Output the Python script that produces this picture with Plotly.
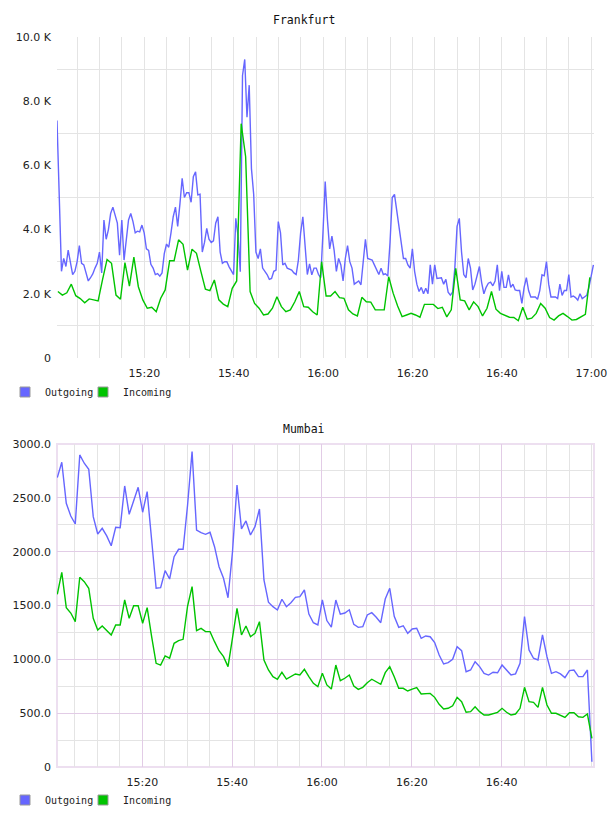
import pandas as pd
import plotly.graph_objects as go

DAY = "2024-01-01"

# Frankfurt outgoing (thousands), one sample every 30 s from 15:00:28
fra_out_k = [
    7.4, 4.9, 2.7, 3.1, 2.85, 3.36, 3.0, 2.6, 2.7, 3.0,
    3.5, 2.95, 2.9, 2.6, 2.4, 2.5, 2.62, 2.8, 2.95, 3.3,
    2.65, 4.3, 3.7, 4.0, 4.5, 4.7, 4.4, 4.2, 3.2, 4.3,
    3.05, 3.74, 4.3, 4.5, 4.25, 3.9, 3.95, 3.93, 4.14, 3.9,
    3.4, 3.35, 2.92, 2.8, 2.6, 2.63, 2.55, 2.65, 3.25, 3.55,
    3.45, 3.9, 4.4, 4.7, 4.1, 4.8, 5.6, 5.0, 5.15, 5.15,
    4.85, 5.65, 5.8, 5.08, 5.1, 3.3, 3.6, 4.04, 3.7, 3.6,
    3.65, 4.2, 4.4, 3.3, 2.95, 3.0, 3.0, 2.84, 2.7, 2.6,
    4.35, 3.8, 2.69, 8.8, 9.3, 7.5, 8.5, 5.9, 5.1, 3.3,
    3.1, 3.4, 2.8, 2.7, 2.6, 2.45, 2.48, 2.7, 2.74, 4.25,
    3.9, 2.9, 2.95, 2.8, 2.78, 2.74, 2.65, 2.6, 3.05, 3.9,
    4.4, 3.36, 2.6, 2.93, 2.59, 2.8, 2.8, 2.6, 2.5, 3.9,
    5.5, 4.3, 3.4, 3.8, 3.35, 2.7, 3.1, 2.9, 2.4, 3.1,
    3.5, 3.0, 2.8, 2.3, 2.35, 2.4, 2.28, 2.9, 3.7, 3.1,
    3.08, 3.05, 2.9, 2.74, 2.6, 2.8, 2.6, 2.62, 2.55, 3.6,
    5.0, 5.1, 4.6, 4.05, 3.5, 3.1, 3.1, 2.9, 2.8, 3.4,
    2.7, 2.3, 2.07, 2.2, 2.0, 2.17, 2.0, 2.9, 2.3, 2.9,
    2.48, 2.48, 2.5, 2.3, 2.45, 2.05, 1.96, 2.05, 2.8, 4.1,
    4.35, 3.3, 2.6, 2.5, 3.1, 2.8, 2.12, 2.3, 2.62, 2.85,
    2.35, 2.0, 2.2, 2.33, 2.36, 2.25, 2.4, 2.9, 2.1, 2.7,
    2.2, 2.2, 2.59, 2.2, 2.3, 2.12, 2.1, 2.1, 1.7, 2.2,
    2.5, 2.1, 1.9, 1.9, 1.9, 1.83, 2.1, 2.59, 2.56, 3.0,
    2.3, 1.9, 1.9, 1.9, 1.85, 2.3, 1.95, 2.1, 2.1, 2.6,
    1.9, 1.93, 1.88, 1.8, 2.0, 1.85, 1.9, 1.95, 2.2, 2.6, 2.9,
]

# Frankfurt incoming (thousands), one sample per minute from 15:00:40
fra_in_k = [
    2.07, 1.96, 2.03, 2.3, 1.94, 1.85, 1.72, 1.84, 1.81, 1.78,
    2.45, 3.07, 2.95, 1.96, 1.83, 2.97, 2.24, 3.14, 2.22, 1.81,
    1.55, 1.58, 1.44, 1.86, 2.12, 3.03, 3.03, 3.68, 3.54, 2.74,
    3.39, 3.26, 2.69, 2.14, 2.1, 2.43, 1.81, 1.68, 1.6, 2.17,
    2.4, 7.3, 6.27, 2.07, 1.7, 1.55, 1.34, 1.37, 1.55, 1.91,
    1.6, 1.44, 1.5, 1.75, 2.07, 1.6, 1.58, 1.44, 1.34, 3.0,
    1.93, 1.93, 2.07, 1.88, 1.86, 1.5, 1.37, 1.31, 1.89, 1.75,
    1.74, 1.5, 1.5, 1.5, 2.53, 2.02, 1.62, 1.29, 1.34, 1.39,
    1.34, 1.27, 1.67, 1.67, 1.67, 1.54, 1.58, 1.28, 1.5, 2.79,
    1.81, 1.78, 1.5, 1.75, 1.6, 1.31, 1.55, 2.07, 1.52, 1.39,
    1.32, 1.27, 1.26, 1.16, 1.58, 1.21, 1.24, 1.39, 1.7, 1.55,
    1.26, 1.18, 1.31, 1.39, 1.29, 1.18, 1.2, 1.27, 1.36, 2.51,
]

# Mumbai, one sample per minute from 15:01:05
mum_out = [
    2687, 2830, 2449, 2331, 2257, 2898, 2821, 2765, 2325, 2164,
    2217, 2146, 2055, 2226, 2223, 2610, 2347, 2480, 2598, 2366,
    2557, 2108, 1660, 1665, 1823, 1746, 1953, 2022, 2022, 2433,
    2929, 2201, 2176, 2161, 2180, 2046, 1860, 1753, 1572, 2000,
    2619, 2211, 2285, 2155, 2232, 2396, 1737, 1530, 1489, 1458,
    1558, 1489, 1526, 1576, 1582, 1644, 1420, 1340, 1320, 1551,
    1360, 1300, 1551, 1420, 1430, 1460, 1325, 1297, 1303, 1412,
    1433, 1390, 1340, 1560, 1660, 1400, 1297, 1312, 1242, 1282,
    1288, 1195, 1217, 1210, 1155, 1040, 957, 969, 1000, 1117,
    1080, 885, 901, 978, 932, 870, 854, 880, 875, 947,
    901, 854, 865, 963, 1396, 1087, 1010, 994, 1226, 1025,
    870, 885, 864, 830, 895, 901, 839, 840, 901, 49,
]
mum_in = [
    1604, 1808, 1480, 1430, 1350, 1762, 1721, 1660, 1381, 1272,
    1310, 1266, 1226, 1319, 1319, 1551, 1381, 1498, 1498, 1335,
    1480, 1210, 963, 947, 1031, 1010, 1149, 1173, 1186, 1495,
    1675, 1266, 1288, 1257, 1257, 1164, 1080, 1025, 932, 1200,
    1474, 1226, 1310, 1210, 1242, 1350, 994, 901, 839, 815,
    880, 817, 839, 864, 854, 907, 840, 777, 746, 870,
    762, 724, 947, 802, 824, 854, 752, 721, 740, 783,
    815, 792, 768, 876, 932, 839, 731, 731, 706, 724,
    737, 678, 684, 684, 647, 582, 539, 545, 569, 647,
    607, 508, 514, 560, 514, 483, 483, 492, 508, 545,
    508, 483, 492, 545, 740, 607, 601, 554, 740, 576,
    499, 499, 483, 461, 504, 504, 467, 461, 492, 267,
]

fra_y_ticks = [0, 2000, 4000, 6000, 8000, 10000]
fra_y_labels = ["0", "2.0 K", "4.0 K", "6.0 K", "8.0 K", "10.0 K"]
mum_y_ticks = [0, 500, 1000, 1500, 2000, 2500, 3000]
mum_y_labels = ["0", "500.0", "1000.0", "1500.0", "2000.0", "2500.0", "3000.0"]
fra_x_labels = ["15:20", "15:40", "16:00", "16:20", "16:40", "17:00"]
mum_x_labels = ["15:20", "15:40", "16:00", "16:20", "16:40"]
series_names = ["Outgoing", "Incoming"]

BLUE = "#6666ff"
GREEN = "#00c400"
GRAY = "#e4e4e4"
LAV = "#e2cce6"
LAV_BORDER = "#eddff0"
COLORS = [BLUE, GREEN]

fra_out_t = pd.date_range(f"{DAY} 15:00:28", periods=len(fra_out_k), freq="30s")
fra_in_t = pd.date_range(f"{DAY} 15:00:40", periods=len(fra_in_k), freq="60s")
mum_t = pd.date_range(f"{DAY} 15:01:05", periods=len(mum_out), freq="60s")

fig = go.Figure()
fig.add_trace(go.Scatter(x=fra_out_t, y=[v * 1000 for v in fra_out_k], mode="lines",
                         line=dict(color=BLUE, width=1.4), xaxis="x", yaxis="y",
                         showlegend=False, name="Outgoing"))
fig.add_trace(go.Scatter(x=fra_in_t, y=[v * 1000 for v in fra_in_k], mode="lines",
                         line=dict(color=GREEN, width=1.4), xaxis="x", yaxis="y",
                         showlegend=False, name="Incoming"))
fig.add_trace(go.Scatter(x=mum_t, y=mum_out, mode="lines",
                         line=dict(color=BLUE, width=1.4), xaxis="x2", yaxis="y2",
                         showlegend=False, name="Outgoing"))
fig.add_trace(go.Scatter(x=mum_t, y=mum_in, mode="lines",
                         line=dict(color=GREEN, width=1.4), xaxis="x2", yaxis="y2",
                         showlegend=False, name="Incoming"))

# legend entries (square swatches), one legend box per entry
legend_boxes = {}
lg_index = 1
for xa, ya, ypix in (("x", "y", 392), ("x2", "y2", 800)):
    for i, (name, col) in enumerate(zip(series_names, COLORS)):
        key = "legend" if lg_index == 1 else f"legend{lg_index}"
        fig.add_trace(go.Scatter(x=[None], y=[None], mode="markers", name=name,
                                 marker=dict(symbol="square", size=10, color=col,
                                             line=dict(color="#999999", width=1)),
                                 xaxis=xa, yaxis=ya, legend=key, showlegend=True))
        left_px = 5 if i == 0 else 83
        legend_boxes[key] = dict(
            orientation="h", xref="container", yref="container",
            x=left_px / 608, y=1 - ypix / 816, xanchor="left", yanchor="middle",
            font=dict(family="DejaVu Sans Mono", size=10, color="#222222"),
            bgcolor="rgba(0,0,0,0)", borderwidth=0,
            itemclick=False, itemdoubleclick=False)
        lg_index += 1

tickfont = dict(family="DejaVu Sans", size=11, color="#222222")
fra_ticks_t = [pd.Timestamp(f"{DAY} {s}") for s in fra_x_labels]
mum_ticks_t = [pd.Timestamp(f"{DAY} {s}") for s in mum_x_labels]

common_x = dict(type="date", ticks="", showline=False, zeroline=False,
                tickfont=tickfont, fixedrange=True, ticklabelstandoff=7)

fig.update_layout(
    width=608, height=816,
    margin=dict(l=57, r=14, t=37, b=49, autoexpand=False),
    paper_bgcolor="white", plot_bgcolor="white",
    template="none",
    xaxis=dict(**common_x, domain=[0, 1], anchor="y",
               range=[f"{DAY} 15:00:28", f"{DAY} 17:00:36"],
               tickmode="array", tickvals=fra_ticks_t, ticktext=fra_x_labels,
               showgrid=True, gridcolor=GRAY, gridwidth=1,
               minor=dict(dtick=300000, tick0=f"{DAY} 15:00", showgrid=True,
                          gridcolor=GRAY, gridwidth=1, ticks="")),
    yaxis=dict(domain=[0.5603, 1], anchor="x", range=[0, 10000],
               tickmode="array", tickvals=fra_y_ticks, ticktext=fra_y_labels,
               showgrid=False, zeroline=False, showline=False, ticks="",
               tickfont=tickfont, ticklabelstandoff=5,
               minor=dict(tickmode="array", tickvals=[1000, 3000, 5000, 7000, 9000],
                          showgrid=True, gridcolor=GRAY, gridwidth=1, ticks="")),
    xaxis2=dict(**common_x, domain=[0, 1], anchor="y2",
                range=[f"{DAY} 15:01:01", f"{DAY} 17:00:33"],
                tickmode="array", tickvals=mum_ticks_t, ticktext=mum_x_labels,
                showgrid=True, gridcolor=LAV, gridwidth=1,
                minor=dict(dtick=300000, tick0=f"{DAY} 15:00", showgrid=True,
                           gridcolor=GRAY, gridwidth=1, ticks="")),
    yaxis2=dict(domain=[0, 0.4425], anchor="x2", range=[0, 3000],
                tickmode="array", tickvals=mum_y_ticks, ticktext=mum_y_labels,
                showgrid=True, gridcolor=LAV, gridwidth=1, zeroline=False,
                showline=False, ticks="", tickfont=tickfont, ticklabelstandoff=5,
                minor=dict(tickmode="array", tickvals=[250, 750, 1250, 1750, 2250, 2750],
                           showgrid=True, gridcolor=GRAY, gridwidth=1, ticks="")),
    shapes=[dict(type="rect", xref="x2 domain", yref="y2 domain", x0=0, x1=1, y0=0, y1=1,
                 line=dict(color=LAV_BORDER, width=2), layer="below")],
    annotations=[
        dict(text="Frankfurt", xref="paper", yref="paper", x=(304 - 57) / 537,
             y=(767 - 20) / 730, showarrow=False, xanchor="center", yanchor="middle",
             font=dict(family="DejaVu Sans Mono", size=11.5, color="#111111")),
        dict(text="Mumbai", xref="paper", yref="paper", x=(304 - 57) / 537,
             y=(767 - 429) / 730, showarrow=False, xanchor="center", yanchor="middle",
             font=dict(family="DejaVu Sans Mono", size=11.5, color="#111111")),
    ],
)
fig.update_layout(**legend_boxes)

fig.write_html("out.html")
